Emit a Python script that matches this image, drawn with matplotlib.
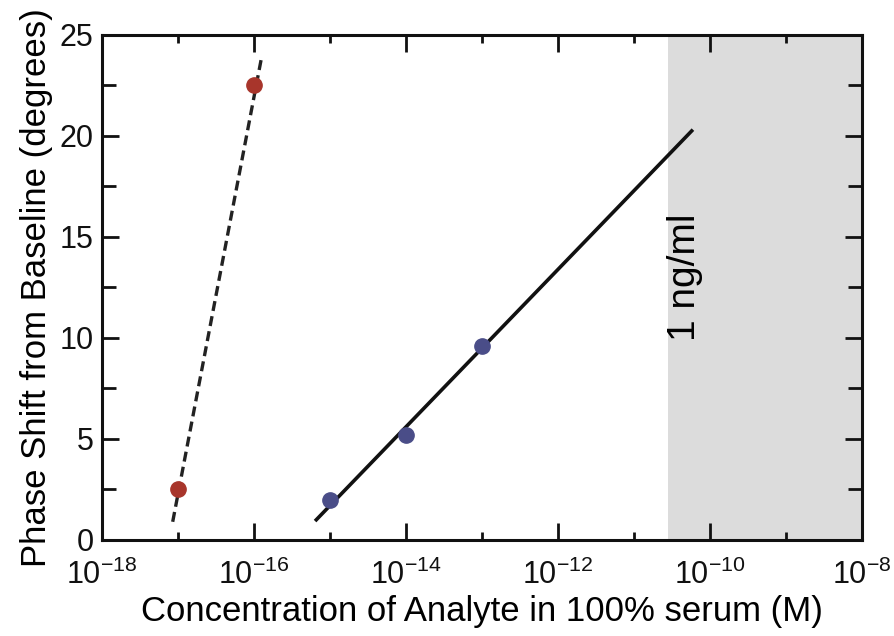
import matplotlib
matplotlib.use("Agg")
import matplotlib.pyplot as plt
import numpy as np
from matplotlib.ticker import LogLocator, FixedLocator, NullFormatter, MultipleLocator

plt.rcParams['font.family'] = ['Liberation Sans', 'DejaVu Sans']

# Data
red_x = [1e-17, 1e-16]
red_y = [2.5, 22.5]
blue_x = [1e-15, 1e-14, 1e-13]
blue_y = [2.0, 5.2, 9.6]
red_fit_x = [10**-17.07, 10**-15.9]
red_fit_y = [0.9, 23.9]
blue_fit_x = [10**-15.18, 10**-10.24]
blue_fit_y = [1.0, 20.25]
shade_range = [10**-10.55, 1e-8]
shade_label = "1 ng/ml"

fig = plt.figure(figsize=(8.95, 6.36), dpi=100)
ax = fig.add_axes([0.114, 0.151, 0.849, 0.794])

ax.axvspan(shade_range[0], shade_range[1], color='#dcdcdc', zorder=0, lw=0)
ax.plot(red_fit_x, red_fit_y, color='#222222', lw=2.4, ls=(0, (3, 1.6)), zorder=2)
ax.plot(blue_fit_x, blue_fit_y, color='#111111', lw=2.6, zorder=2)
ax.plot(red_x, red_y, 'o', color='#a8352b', ms=11, zorder=3)
ax.plot(blue_x, blue_y, 'o', color='#4a4d88', ms=11, zorder=3)

ax.text(10**-10.33, 13.0, shade_label, rotation=90, ha='center', va='center', fontsize=28)

ax.set_xscale('log')
ax.set_xlim(1e-18, 1e-8)
ax.set_ylim(0, 25)

ax.xaxis.set_major_locator(FixedLocator([10.0**e for e in range(-18, -7, 2)]))
ax.xaxis.set_minor_locator(FixedLocator([10.0**e for e in range(-17, -8, 2)]))
ax.xaxis.set_minor_formatter(NullFormatter())
ax.yaxis.set_major_locator(MultipleLocator(5))
ax.yaxis.set_minor_locator(MultipleLocator(2.5))

ax.tick_params(which='both', direction='in', top=True, right=True, width=2, colors='#111111')
ax.tick_params(which='major', length=12)
ax.tick_params(axis='x', labelsize=22, pad=14)
ax.tick_params(axis='y', labelsize=22, pad=6)
ax.tick_params(axis='y', which='minor', length=10)
ax.tick_params(axis='x', which='minor', length=6)
for s in ax.spines.values():
    s.set_linewidth(2.2)
    s.set_color('#111111')

ax.set_xlabel('Concentration of Analyte in 100% serum (M)', fontsize=25, labelpad=3)
ax.set_ylabel('Phase Shift from Baseline (degrees)', fontsize=25, labelpad=5)

fig.savefig('out.png', dpi=100)
